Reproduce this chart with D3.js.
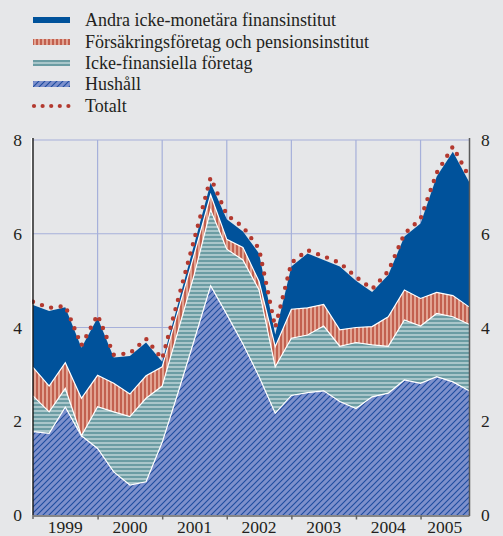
<!DOCTYPE html>
<html><head><meta charset="utf-8">
<script src="https://cdn.jsdelivr.net/npm/d3@7"></script>
<style>
body{margin:0;background:#e6e7e9;}
svg{display:block;}
text{font-family:"Liberation Serif","Times New Roman",serif;fill:#231f20;}
</style>
</head><body>
<svg id="c" width="503" height="536"></svg>
<script>
// Quarterly data 1999 Q1 – 2005 Q4
const quarters = ["1999K1","1999K2","1999K3","1999K4","2000K1","2000K2","2000K3","2000K4",
  "2001K1","2001K2","2001K3","2001K4","2002K1","2002K2","2002K3","2002K4",
  "2003K1","2003K2","2003K3","2003K4","2004K1","2004K2","2004K3","2004K4",
  "2005K1","2005K2","2005K3","2005K4"];
const hushall    = [1.78,1.74,2.30,1.69,1.42,0.92,0.64,0.71,1.55,2.63,3.75,4.89,4.28,3.65,2.95,2.17,2.55,2.61,2.65,2.42,2.27,2.52,2.60,2.88,2.81,2.95,2.84,2.65];
const ickeFin    = [0.76,0.46,0.40,0.00,0.89,1.28,1.46,1.78,1.20,1.32,1.40,1.62,1.39,1.79,1.85,0.99,1.22,1.23,1.38,1.18,1.41,1.11,1.00,1.28,1.22,1.35,1.39,1.42];
const forsakring = [0.61,0.55,0.55,0.80,0.67,0.61,0.48,0.48,0.41,0.42,0.43,0.32,0.21,0.27,0.18,0.43,0.62,0.58,0.46,0.35,0.32,0.39,0.63,0.64,0.59,0.45,0.45,0.37];
const andraIMFI  = [1.33,1.60,1.18,1.08,1.23,0.55,0.81,0.71,0.11,0.16,0.22,0.26,0.43,0.34,0.60,0.26,0.91,1.16,0.95,1.35,1.00,0.74,0.89,1.14,1.60,2.47,3.07,2.67];
const totalt     = [4.55,4.42,4.46,3.62,4.27,3.42,3.45,3.76,3.33,4.62,5.90,7.20,6.40,6.15,5.68,4.00,5.38,5.65,5.52,5.38,5.08,4.82,5.20,6.00,6.32,7.30,7.86,7.22];
const yTicks = [0,2,4,6,8];
const gridY = [2,4,6,8];
const years = [1999,2000,2001,2002,2003,2004,2005];
const yearLabels = ["1999","2000","2001","2002","2003","2004","2005"];
const legendNames = ["Andra icke-monetära finansinstitut","Försäkringsföretag och pensionsinstitut","Icke-finansiella företag","Hushåll","Totalt"];

const svg = d3.select("#c");
const W = 503, H = 536;
const L = 33, R = 469, T = 140, B = 515;

svg.append("rect").attr("width",W).attr("height",H).attr("fill","#e6e7e9");

// patterns
const defs = svg.append("defs");
const pH = defs.append("pattern").attr("id","pHus").attr("patternUnits","userSpaceOnUse").attr("width",6).attr("height",6);
pH.append("rect").attr("width",6).attr("height",6).attr("fill","#7d90cc");
pH.append("path").attr("d","M0,6L6,0M-1,1L1,-1M5,7L7,5").attr("stroke","#1d4c9f").attr("stroke-width",1.1);
const pI = defs.append("pattern").attr("id","pIcke").attr("patternUnits","userSpaceOnUse").attr("width",4).attr("height",4);
pI.append("rect").attr("width",4).attr("height",4).attr("fill","#a9c6ca");
pI.append("rect").attr("y",0).attr("width",4).attr("height",2).attr("fill","#6b9ca3");
const pF = defs.append("pattern").attr("id","pFors").attr("patternUnits","userSpaceOnUse").attr("width",4).attr("height",4);
pF.append("rect").attr("width",4).attr("height",4).attr("fill","#e2a493");
pF.append("rect").attr("x",0).attr("width",2).attr("height",4).attr("fill","#c2604f");

const fills = ["url(#pHus)","url(#pIcke)","url(#pFors)","#00529b"];

const t = quarters.map((q,i)=>+q.slice(0,4) + (+q.slice(5)-1)/4);
const x = d3.scaleLinear().domain([1999, 2005.75]).range([L,R]);
const y = d3.scaleLinear().domain([0,8]).range([B,T]);

// grid
svg.append("g").selectAll("line").data(gridY).join("line")
  .attr("x1",L).attr("x2",R).attr("y1",d=>y(d)).attr("y2",d=>y(d))
  .attr("stroke","#a6b0da").attr("stroke-width",1.2);
svg.append("g").selectAll("line").data(years.slice(1)).join("line")
  .attr("x1",d=>x(d)).attr("x2",d=>x(d)).attr("y1",T).attr("y2",B)
  .attr("stroke","#a6b0da").attr("stroke-width",1.2);

// stack
const keys = ["hushall","ickeFin","forsakring","andraIMFI"];
const table = quarters.map((q,i)=>({t:t[i],hushall:hushall[i],ickeFin:ickeFin[i],forsakring:forsakring[i],andraIMFI:andraIMFI[i]}));
const stacked = d3.stack().keys(keys)(table);
const area = d3.area().x(d=>x(d.data.t)).y0(d=>y(d[0])).y1(d=>y(d[1]));
const topLine = d3.line().x(d=>x(d.data.t)).y(d=>y(d[1]));
svg.append("g").selectAll("path").data(stacked).join("path")
  .attr("d",area).attr("fill",(d,i)=>fills[i]);
svg.append("g").selectAll("path").data(stacked.slice(0,3)).join("path")
  .attr("d",topLine).attr("fill","none").attr("stroke","#ffffff").attr("stroke-width",1.2);

// totalt dotted
const tl = d3.line().x((d,i)=>x(t[i])).y(d=>y(d));
svg.append("path").attr("d",tl(totalt)).attr("fill","none")
  .attr("stroke","#b3392f").attr("stroke-width",4.4).attr("stroke-linecap","round")
  .attr("stroke-dasharray","0 9.6");

// axes lines
svg.append("line").attr("x1",L-1.5).attr("x2",L-1.5).attr("y1",T-2).attr("y2",B).attr("stroke","#ffffff").attr("stroke-width",1.2);
svg.append("line").attr("x1",L).attr("x2",L).attr("y1",T-2).attr("y2",B).attr("stroke","#1a1a1a").attr("stroke-width",1.4);
svg.append("line").attr("x1",R+0.5).attr("x2",R+0.5).attr("y1",T-2).attr("y2",B+1).attr("stroke","#5a5a5a").attr("stroke-width",1.5);

const xAxis = svg.append("g").attr("transform",`translate(0,${B+0.5})`)
  .call(d3.axisBottom(x).tickValues(years.slice(1)).tickSize(4).tickSizeOuter(0).tickFormat(""));
xAxis.select(".domain").attr("stroke","#666").attr("stroke-width",1.5);
xAxis.selectAll(".tick line").attr("stroke","#666").attr("stroke-width",1.5);
svg.append("line").attr("x1",L).attr("x2",L).attr("y1",B).attr("y2",B+4).attr("stroke","#666").attr("stroke-width",1.5);

// year labels
const mids = years.map((yr,i)=> i<years.length-1 ? yr+0.5 : (yr+2005.75)/2);
svg.append("g").selectAll("text").data(yearLabels).join("text")
  .attr("x",(d,i)=>x(mids[i])).attr("y",533).attr("text-anchor","middle")
  .attr("font-size",17.5).text(d=>d);

// y labels
const yl = d3.axisLeft(y).tickValues(yTicks).tickSize(0).tickPadding(11);
const gl = svg.append("g").attr("transform",`translate(${L},0)`).call(yl);
gl.select(".domain").remove();
gl.selectAll("text").attr("font-size",17.5).attr("font-family",'"Liberation Serif",serif').attr("fill","#231f20");
const yr2 = d3.axisRight(y).tickValues(yTicks).tickSize(0).tickPadding(12);
const gr = svg.append("g").attr("transform",`translate(${R},0)`).call(yr2);
gr.select(".domain").remove();
gr.selectAll("text").attr("font-size",17.5).attr("font-family",'"Liberation Serif",serif').attr("fill","#231f20");

// legend
const legY = [20,42,63,84,106];
const lg = svg.append("g");
const legFills = ["#00529b","url(#pFors)","url(#pIcke)","url(#pHus)"];
legFills.forEach((f,i)=>{
  lg.append("rect").attr("x",33).attr("y",legY[i]-3).attr("width",37).attr("height",6).attr("fill",f);
});
lg.selectAll("circle").data(d3.range(5)).join("circle")
  .attr("cx",d=>34+d*8.6).attr("cy",legY[4]).attr("r",2.1).attr("fill","#b3392f");
lg.selectAll("text").data(legendNames).join("text")
  .attr("x",85).attr("y",(d,i)=>legY[i]).attr("dy","0.35em").attr("font-size",18).text(d=>d);
</script>
</body></html>
